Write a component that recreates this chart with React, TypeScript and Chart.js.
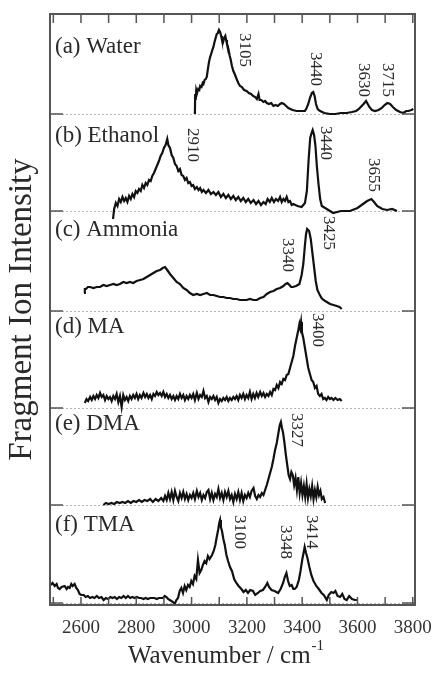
import { useEffect, useRef } from "react";
import { Chart, registerables } from "chart.js";

Chart.register(...registerables);

const FONT = "'Liberation Serif', 'Times New Roman', serif";

// [wavenumber (cm-1), intensity (arb. units)]
const waterPoints: [number, number][] = [
  [3012, 0], [3013, 20], [3015, 14], [3017, 24], [3020, 21], [3024, 25], [3028, 24], [3031, 28], [3036, 27], [3040, 31],
  [3043, 30], [3047, 34], [3051, 35], [3055, 37], [3059, 45], [3063, 52], [3067, 57], [3071, 60], [3075, 64], [3079, 67],
  [3083, 72], [3087, 76], [3091, 80], [3095, 81], [3099, 84], [3103, 82], [3107, 78], [3110, 74], [3114, 72], [3118, 76],
  [3122, 78], [3125, 74], [3128, 70], [3131, 68], [3134, 64], [3138, 58], [3141, 55], [3146, 48], [3151, 43], [3156, 40],
  [3163, 35], [3169, 31], [3175, 28], [3182, 27], [3190, 24], [3199, 23], [3207, 21], [3215, 20], [3223, 18], [3230, 17],
  [3236, 15], [3242, 20], [3246, 14], [3252, 14], [3260, 12], [3266, 13], [3272, 11], [3280, 10], [3288, 11], [3296, 8],
  [3304, 9], [3312, 8], [3320, 10], [3326, 11], [3334, 10], [3342, 8], [3350, 6], [3365, 4], [3380, 3], [3395, 3],
  [3410, 3], [3416, 6], [3422, 10], [3428, 16], [3435, 21], [3440, 22], [3445, 18], [3450, 10], [3456, 5], [3465, 3],
  [3480, 1], [3500, 0], [3520, 0], [3540, 1], [3561, 1], [3580, 2], [3595, 3], [3605, 5], [3615, 8], [3622, 10],
  [3631, 13], [3637, 10], [3643, 7], [3652, 4], [3664, 3], [3676, 4], [3688, 6], [3698, 9], [3708, 11], [3718, 10],
  [3728, 7], [3740, 4], [3754, 2], [3766, 1], [3776, 3], [3784, 3], [3795, 4], [3802, 5],
];

const ethanolPoints: [number, number][] = [
  [2716, -8], [2720, 2], [2726, 8], [2732, 5], [2738, 12], [2744, 9], [2750, 14], [2756, 10], [2762, 13], [2768, 9],
  [2774, 15], [2780, 12], [2786, 17], [2792, 14], [2798, 20], [2804, 18], [2810, 22], [2816, 20], [2822, 26], [2828, 23],
  [2834, 28], [2840, 26], [2846, 31], [2852, 30], [2858, 35], [2864, 38], [2870, 42], [2876, 46], [2882, 50], [2888, 55],
  [2894, 58], [2900, 63], [2906, 66], [2912, 72], [2916, 66], [2922, 63], [2928, 56], [2934, 53], [2940, 47], [2946, 45],
  [2952, 40], [2958, 42], [2964, 36], [2970, 35], [2976, 31], [2982, 33], [2988, 28], [2994, 29], [3000, 25], [3006, 26],
  [3012, 22], [3019, 24], [3025, 21], [3031, 23], [3037, 19], [3043, 21], [3052, 18], [3061, 21], [3070, 17], [3079, 19],
  [3088, 16], [3097, 19], [3106, 14], [3115, 17], [3124, 13], [3133, 16], [3142, 12], [3151, 15], [3160, 11], [3169, 14],
  [3178, 10], [3187, 13], [3196, 9], [3205, 12], [3214, 8], [3224, 11], [3233, 7], [3242, 10], [3251, 6], [3260, 9],
  [3268, 7], [3275, 12], [3283, 9], [3290, 13], [3298, 9], [3305, 12], [3313, 10], [3320, 14], [3326, 9], [3332, 12],
  [3338, 10], [3344, 14], [3350, 9], [3356, 10], [3362, 6], [3368, 7], [3383, 5], [3398, 4], [3410, 8], [3417, 20],
  [3423, 50], [3429, 73], [3434, 78], [3438, 81], [3443, 76], [3448, 65], [3453, 45], [3459, 27], [3465, 12], [3471, 5],
  [3489, 2], [3512, -2], [3540, 0], [3573, 0], [3600, 3], [3620, 7], [3635, 10], [3650, 12], [3660, 9], [3671, 5],
  [3690, 2], [3707, 1], [3725, 2], [3743, 0],
];

const ammoniaPoints: [number, number][] = [
  [2611, 18], [2614, 22], [2618, 22], [2625, 24], [2633, 24], [2645, 23], [2657, 24], [2669, 24], [2681, 26], [2693, 25],
  [2705, 26], [2717, 27], [2729, 26], [2741, 27], [2753, 29], [2765, 28], [2777, 29], [2789, 28], [2801, 30], [2814, 31],
  [2826, 32], [2838, 34], [2850, 36], [2862, 38], [2874, 40], [2886, 41], [2896, 43], [2904, 44], [2912, 41], [2922, 37],
  [2934, 33], [2946, 29], [2958, 27], [2970, 23], [2982, 21], [2994, 18], [3006, 16], [3019, 17], [3031, 16], [3043, 17],
  [3055, 18], [3067, 16], [3079, 16], [3091, 15], [3103, 14], [3115, 14], [3127, 13], [3139, 13], [3151, 12], [3163, 12],
  [3175, 11], [3187, 11], [3199, 11], [3211, 12], [3224, 11], [3236, 11], [3248, 13], [3260, 14], [3272, 17], [3284, 19],
  [3296, 20], [3308, 22], [3320, 23], [3332, 25], [3340, 27], [3347, 28], [3354, 26], [3360, 24], [3366, 24], [3378, 25],
  [3390, 27], [3398, 36], [3404, 47], [3410, 66], [3414, 77], [3418, 82], [3421, 82], [3425, 80], [3431, 72], [3437, 58],
  [3443, 44], [3449, 30], [3455, 21], [3462, 17], [3470, 13], [3477, 11], [3489, 9], [3501, 7], [3513, 6], [3525, 5],
  [3535, 4], [3543, 2],
];

const maPoints: [number, number][] = [
  [2614, 5], [2620, 9], [2626, 7], [2633, 11], [2639, 8], [2645, 12], [2651, 9], [2657, 13], [2663, 10], [2669, 15],
  [2675, 11], [2681, 13], [2687, 8], [2693, 12], [2699, 9], [2705, 11], [2711, 7], [2717, 12], [2723, 9], [2729, 14],
  [2735, 6], [2741, 12], [2747, 1], [2753, 13], [2759, 8], [2765, 11], [2771, 7], [2777, 12], [2783, 9], [2789, 13],
  [2795, 10], [2801, 14], [2807, 9], [2813, 13], [2819, 10], [2826, 15], [2832, 11], [2838, 14], [2844, 10], [2850, 13],
  [2856, 9], [2862, 14], [2868, 12], [2874, 16], [2880, 13], [2886, 15], [2892, 12], [2898, 16], [2904, 11], [2910, 14],
  [2916, 10], [2922, 13], [2928, 9], [2934, 12], [2940, 8], [2946, 12], [2952, 9], [2958, 14], [2964, 10], [2970, 13],
  [2976, 8], [2982, 12], [2988, 9], [2994, 13], [3000, 10], [3006, 14], [3012, 8], [3019, 15], [3025, 9], [3031, 13],
  [3037, 11], [3043, 17], [3049, 10], [3055, 12], [3061, 6], [3067, 11], [3073, 9], [3079, 12], [3085, 8], [3091, 11],
  [3097, 5], [3103, 9], [3109, 7], [3115, 10], [3121, 8], [3127, 11], [3133, 7], [3139, 10], [3145, 8], [3151, 11],
  [3157, 9], [3163, 12], [3169, 8], [3175, 13], [3181, 10], [3187, 14], [3193, 9], [3199, 13], [3205, 10], [3211, 16],
  [3217, 9], [3223, 14], [3229, 10], [3235, 15], [3241, 11], [3248, 16], [3254, 12], [3260, 15], [3266, 11], [3272, 14],
  [3278, 12], [3284, 16], [3290, 13], [3296, 19], [3302, 18], [3308, 23], [3314, 20], [3320, 26], [3326, 24], [3332, 29],
  [3338, 28], [3344, 33], [3350, 34], [3356, 40], [3362, 46], [3368, 52], [3374, 62], [3380, 70], [3386, 78], [3390, 84],
  [3393, 80], [3396, 86], [3399, 76], [3404, 70], [3410, 60], [3416, 50], [3422, 40], [3428, 34], [3434, 28], [3440, 26],
  [3446, 20], [3452, 22], [3458, 14], [3464, 12], [3470, 14], [3476, 9], [3482, 10], [3488, 8], [3494, 11], [3500, 9],
  [3506, 10], [3513, 8], [3520, 10], [3528, 8], [3536, 9], [3543, 7],
];

const dmaPoints: [number, number][] = [
  [2681, 0], [2690, 2], [2700, 1], [2710, 2], [2720, 1], [2730, 3], [2740, 2], [2750, 3], [2760, 2], [2770, 4],
  [2780, 2], [2790, 4], [2800, 3], [2810, 5], [2820, 3], [2830, 5], [2840, 4], [2850, 6], [2860, 3], [2870, 6],
  [2880, 4], [2890, 7], [2898, 4], [2904, 9], [2910, 5], [2916, 12], [2922, 6], [2928, 13], [2934, 5], [2940, 14],
  [2946, 8], [2952, 4], [2958, 12], [2964, 7], [2970, 13], [2976, 6], [2982, 11], [2988, 5], [2994, 10], [3000, 7],
  [3006, 12], [3012, 6], [3019, 14], [3025, 8], [3031, 12], [3037, 5], [3043, 10], [3049, 7], [3055, 13], [3061, 15],
  [3067, 6], [3073, 12], [3079, 5], [3085, 11], [3091, 8], [3097, 16], [3103, 7], [3109, 12], [3115, 5], [3121, 13],
  [3127, 8], [3133, 14], [3139, 6], [3145, 10], [3151, 3], [3157, 11], [3163, 6], [3169, 13], [3175, 5], [3181, 12],
  [3187, 4], [3193, 10], [3199, 7], [3205, 12], [3211, 8], [3217, 14], [3224, 17], [3230, 9], [3236, 6], [3242, 10],
  [3248, 8], [3254, 12], [3260, 10], [3266, 15], [3272, 20], [3278, 26], [3284, 32], [3290, 38], [3296, 46], [3302, 55],
  [3308, 62], [3314, 72], [3319, 80], [3323, 83], [3327, 77], [3331, 72], [3336, 62], [3341, 50], [3346, 40], [3351, 30],
  [3356, 26], [3361, 33], [3366, 30], [3371, 20], [3376, 27], [3381, 15], [3386, 28], [3391, 12], [3396, 22], [3401, 10],
  [3406, 19], [3411, 8], [3416, 21], [3421, 7], [3426, 16], [3431, 9], [3436, 19], [3441, 6], [3446, 15], [3451, 8],
  [3456, 18], [3461, 10], [3466, 14], [3471, 6], [3477, 8], [3483, 2],
];

const tmaPoints: [number, number][] = [
  [2490, 18], [2497, 20], [2505, 17], [2512, 19], [2517, 15], [2523, 14], [2530, 16], [2541, 17], [2548, 14], [2553, 16],
  [2559, 15], [2565, 19], [2570, 17], [2577, 19], [2583, 15], [2589, 13], [2595, 9], [2601, 8], [2610, 8], [2617, 6],
  [2625, 7], [2633, 5], [2641, 6], [2649, 5], [2657, 7], [2665, 5], [2674, 6], [2682, 3], [2690, 5], [2698, 4],
  [2706, 6], [2714, 5], [2722, 6], [2730, 4], [2738, 6], [2746, 5], [2754, 7], [2762, 5], [2770, 7], [2778, 5],
  [2786, 6], [2794, 5], [2802, 6], [2810, 5], [2818, 5], [2826, 4], [2834, 5], [2842, 4], [2850, 5], [2858, 5],
  [2866, 5], [2874, 4], [2882, 5], [2890, 5], [2897, 5], [2903, 7], [2909, 6], [2915, 4], [2921, 3], [2927, 2],
  [2933, 1], [2939, -1], [2945, 3], [2951, 5], [2957, 12], [2963, 15], [2969, 10], [2975, 17], [2981, 13], [2987, 18],
  [2993, 16], [2999, 22], [3005, 19], [3011, 27], [3017, 24], [3023, 43], [3029, 30], [3035, 33], [3041, 38], [3047, 42],
  [3053, 40], [3059, 47], [3065, 44], [3074, 48], [3080, 52], [3086, 58], [3091, 66], [3096, 73], [3100, 80], [3103, 83],
  [3106, 76], [3110, 72], [3115, 64], [3120, 58], [3126, 48], [3132, 42], [3139, 36], [3146, 32], [3154, 24], [3162, 20],
  [3170, 17], [3180, 14], [3188, 11], [3196, 13], [3204, 10], [3212, 13], [3222, 12], [3230, 8], [3240, 10], [3248, 12],
  [3258, 13], [3266, 16], [3274, 20], [3280, 16], [3289, 13], [3300, 12], [3313, 10], [3322, 14], [3331, 20], [3337, 26],
  [3343, 30], [3349, 22], [3355, 17], [3362, 18], [3368, 14], [3373, 14], [3380, 16], [3388, 23], [3394, 32], [3400, 43],
  [3405, 50], [3409, 56], [3414, 50], [3419, 45], [3426, 36], [3433, 28], [3441, 22], [3451, 17], [3460, 14], [3470, 10],
  [3478, 8], [3489, 3], [3496, 8], [3505, 11], [3513, 10], [3520, 12], [3528, 7], [3537, 6], [3545, 9], [3553, 4],
  [3561, 3], [3570, 7], [3580, 4], [3591, 3], [3598, 3],
];

const panelNames = ["(a) Water", "(b) Ethanol", "(c) Ammonia", "(d) MA", "(e) DMA", "(f) TMA"];
const xTickValues = [2600, 2800, 3000, 3200, 3400, 3600, 3800];
const peakLabels = ["3105", "3440", "3630", "3715", "2910", "3440", "3655", "3340", "3425", "3400", "3327", "3100", "3348", "3414"];

// layout (vertical stacking offsets and label anchors, in axis units)
const panelOffsets = [491, 394, 294, 197, 100, 2];
const panelLabelY = [552, 463, 369, 272, 175, 74];
const peakLabelWn = [3193, 3447, 3620, 3707, 3002, 3483, 3656, 3345, 3494, 3457, 3381, 3175, 3338, 3432];
const peakLabelTop = [572, 553, 542, 542, 477, 479, 447, 367, 389, 292, 192, 90, 80, 90];

const series = [waterPoints, ethanolPoints, ammoniaPoints, maPoints, dmaPoints, tmaPoints];

const decor = {
  id: "decor",
  beforeDatasetsDraw(chart: any) {
    const { ctx, chartArea: a, scales } = chart;
    const y = scales.y;
    ctx.save();
    ctx.strokeStyle = "#b5b5b5";
    ctx.lineWidth = 1;
    ctx.setLineDash([2, 2]);
    panelOffsets.forEach((o) => {
      const py = Math.round(y.getPixelForValue(o)) + 0.5;
      ctx.beginPath();
      ctx.moveTo(a.left, py);
      ctx.lineTo(a.right, py);
      ctx.stroke();
    });
    ctx.restore();
  },
  afterDatasetsDraw(chart: any) {
    const { ctx, chartArea: a, scales } = chart;
    const x = scales.x;
    const y = scales.y;
    ctx.save();
    ctx.strokeStyle = "#555";
    ctx.lineWidth = 2;
    ctx.strokeRect(a.left, a.top, a.right - a.left, a.bottom - a.top);
    ctx.lineWidth = 1.5;
    for (let w = 2500; w <= 3800; w += 100) {
      const px = x.getPixelForValue(w);
      ctx.beginPath();
      ctx.moveTo(px, a.top);
      ctx.lineTo(px, a.top + 9);
      ctx.moveTo(px, a.bottom);
      ctx.lineTo(px, a.bottom - 8);
      ctx.stroke();
    }
    panelOffsets.forEach((o) => {
      const py = y.getPixelForValue(o);
      ctx.beginPath();
      ctx.moveTo(a.left, py);
      ctx.lineTo(a.left + 13, py);
      ctx.moveTo(a.right - 13, py);
      ctx.lineTo(a.right, py);
      ctx.stroke();
    });
    ctx.fillStyle = "#2a2a2a";
    ctx.font = `23px ${FONT}`;
    ctx.textAlign = "left";
    ctx.textBaseline = "alphabetic";
    panelNames.forEach((n, i) => {
      ctx.fillText(n, x.getPixelForValue(2506), y.getPixelForValue(panelLabelY[i]));
    });
    ctx.font = `17px ${FONT}`;
    ctx.textBaseline = "middle";
    peakLabels.forEach((t, i) => {
      ctx.save();
      ctx.translate(x.getPixelForValue(peakLabelWn[i]), y.getPixelForValue(peakLabelTop[i]));
      ctx.rotate(Math.PI / 2);
      ctx.fillText(t, 0, 0);
      ctx.restore();
    });
    // x axis title with superscript
    const main = "Wavenumber / cm";
    const sup = "-1";
    ctx.font = `25px ${FONT}`;
    const mw = ctx.measureText(main).width;
    ctx.font = `15px ${FONT}`;
    const sw = ctx.measureText(sup).width;
    const cx = (a.left + a.right) / 2 - 7;
    const sx = cx - (mw + sw) / 2;
    ctx.textBaseline = "alphabetic";
    ctx.font = `25px ${FONT}`;
    ctx.fillText(main, sx, 663);
    ctx.font = `15px ${FONT}`;
    ctx.fillText(sup, sx + mw + 1, 650);
    ctx.restore();
  },
};

export default function App() {
  const ref = useRef<HTMLCanvasElement>(null);
  useEffect(() => {
    document.body.style.margin = "0";
    const canvas = ref.current!;
    const datasets = series.map((pts, i) => ({
      data: pts.map(([w, v]) => ({ x: w, y: panelOffsets[i] + v })),
      borderColor: "#111",
      borderWidth: 2.2,
      pointRadius: 0,
      showLine: true,
      fill: false,
      tension: 0,
    }));
    const chart = new Chart(canvas, {
      type: "scatter",
      data: { datasets },
      options: {
        animation: false,
        responsive: false,
        layout: { padding: { top: 14, right: 18, left: 0, bottom: 0 } },
        plugins: { legend: { display: false }, tooltip: { enabled: false } },
        scales: {
          x: {
            type: "linear",
            min: 2488,
            max: 3808,
            afterBuildTicks: (axis: any) => {
              axis.ticks = xTickValues.map((v) => ({ value: v }));
            },
            afterFit: (s: any) => {
              s.height = 68;
              s.paddingLeft = 0;
              s.paddingRight = 0;
            },
            ticks: {
              font: { family: FONT, size: 19 },
              color: "#333",
              padding: 12,
              maxRotation: 0,
              autoSkip: false,
              callback: (v: any) => String(v),
            },
            grid: { display: false, drawTicks: false },
            border: { display: false },
          },
          y: {
            type: "linear",
            min: 0,
            max: 591,
            afterFit: (s: any) => {
              s.width = 50;
              s.paddingTop = 0;
              s.paddingBottom = 0;
            },
            ticks: { display: false },
            grid: { display: false, drawTicks: false },
            border: { display: false },
            title: {
              display: true,
              text: "Fragment Ion Intensity",
              font: { family: FONT, size: 33 },
              color: "#2a2a2a",
              padding: { top: 3, bottom: 0 },
            },
          },
        },
      },
      plugins: [decor],
    });
    return () => chart.destroy();
  }, []);
  return (
    <div style={{ position: "absolute", left: 0, top: 0 }}>
      <canvas ref={ref} width={433} height={673} style={{ display: "block" }} />
    </div>
  );
}
